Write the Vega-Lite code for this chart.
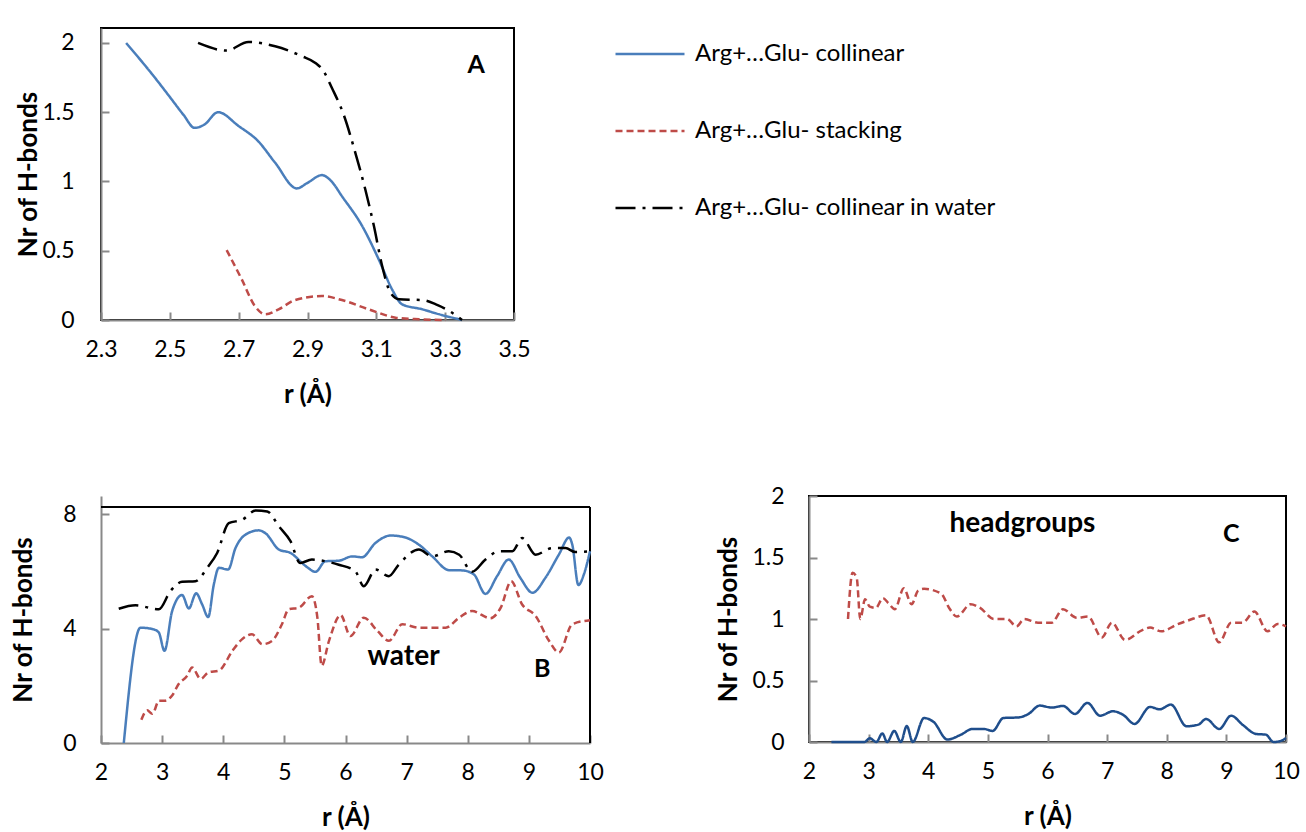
{
  "$schema": "https://vega.github.io/schema/vega-lite/v6.json",
  "background": "white",
  "padding": {"left": 10, "top": 17, "right": 5, "bottom": 5},
  "columns": 2,
  "align": "none",
  "bounds": "flush",
  "spacing": {"row": 176, "column": 219},
  "datasets": {
    "A": [
      {"s": "collinear", "r": 2.373, "n": 2.0}, {"s": "collinear", "r": 2.45, "n": 1.77}, {"s": "collinear", "r": 2.5, "n": 1.61},
      {"s": "collinear", "r": 2.54, "n": 1.48}, {"s": "collinear", "r": 2.572, "n": 1.387}, {"s": "collinear", "r": 2.6, "n": 1.41},
      {"s": "collinear", "r": 2.64, "n": 1.5}, {"s": "collinear", "r": 2.7, "n": 1.4}, {"s": "collinear", "r": 2.757, "n": 1.29},
      {"s": "collinear", "r": 2.806, "n": 1.135}, {"s": "collinear", "r": 2.869, "n": 0.95}, {"s": "collinear", "r": 2.9, "n": 0.99},
      {"s": "collinear", "r": 2.942, "n": 1.046}, {"s": "collinear", "r": 2.97, "n": 1.0}, {"s": "collinear", "r": 3.0, "n": 0.894},
      {"s": "collinear", "r": 3.059, "n": 0.678}, {"s": "collinear", "r": 3.107, "n": 0.4375}, {"s": "collinear", "r": 3.146, "n": 0.22},
      {"s": "collinear", "r": 3.175, "n": 0.113}, {"s": "collinear", "r": 3.234, "n": 0.077}, {"s": "collinear", "r": 3.273, "n": 0.048},
      {"s": "collinear", "r": 3.349, "n": 0.0},
      {"s": "stacking", "r": 2.665, "n": 0.505}, {"s": "stacking", "r": 2.709, "n": 0.293}, {"s": "stacking", "r": 2.747, "n": 0.101},
      {"s": "stacking", "r": 2.777, "n": 0.041}, {"s": "stacking", "r": 2.816, "n": 0.077}, {"s": "stacking", "r": 2.864, "n": 0.144},
      {"s": "stacking", "r": 2.942, "n": 0.173}, {"s": "stacking", "r": 3.0, "n": 0.144}, {"s": "stacking", "r": 3.078, "n": 0.077},
      {"s": "stacking", "r": 3.156, "n": 0.017}, {"s": "stacking", "r": 3.224, "n": 0.005}, {"s": "stacking", "r": 3.302, "n": 0.0},
      {"s": "collinear in water", "r": 2.582, "n": 2.0}, {"s": "collinear in water", "r": 2.665, "n": 1.945},
      {"s": "collinear in water", "r": 2.728, "n": 2.007}, {"s": "collinear in water", "r": 2.806, "n": 1.976},
      {"s": "collinear in water", "r": 2.884, "n": 1.904}, {"s": "collinear in water", "r": 2.923, "n": 1.856},
      {"s": "collinear in water", "r": 2.947, "n": 1.796}, {"s": "collinear in water", "r": 2.971, "n": 1.675},
      {"s": "collinear in water", "r": 3.005, "n": 1.483}, {"s": "collinear in water", "r": 3.039, "n": 1.207},
      {"s": "collinear in water", "r": 3.068, "n": 0.942}, {"s": "collinear in water", "r": 3.093, "n": 0.678},
      {"s": "collinear in water", "r": 3.117, "n": 0.389}, {"s": "collinear in water", "r": 3.141, "n": 0.197},
      {"s": "collinear in water", "r": 3.166, "n": 0.149}, {"s": "collinear in water", "r": 3.234, "n": 0.144},
      {"s": "collinear in water", "r": 3.273, "n": 0.113}, {"s": "collinear in water", "r": 3.312, "n": 0.065},
      {"s": "collinear in water", "r": 3.349, "n": 0.0}
    ],
    "B": [
      {"s": "collinear", "r": 2.373, "n": 0}, {"s": "collinear", "r": 2.646, "n": 4.03}, {"s": "collinear", "r": 2.86, "n": 3.97},
      {"s": "collinear", "r": 2.946, "n": 3.86}, {"s": "collinear", "r": 3.038, "n": 3.22}, {"s": "collinear", "r": 3.164, "n": 4.61},
      {"s": "collinear", "r": 3.327, "n": 5.17}, {"s": "collinear", "r": 3.437, "n": 4.7}, {"s": "collinear", "r": 3.556, "n": 5.23},
      {"s": "collinear", "r": 3.655, "n": 4.84}, {"s": "collinear", "r": 3.754, "n": 4.4}, {"s": "collinear", "r": 3.846, "n": 5.54},
      {"s": "collinear", "r": 3.928, "n": 6.12}, {"s": "collinear", "r": 4.08, "n": 6.06}, {"s": "collinear", "r": 4.2, "n": 6.81},
      {"s": "collinear", "r": 4.364, "n": 7.28}, {"s": "collinear", "r": 4.582, "n": 7.43}, {"s": "collinear", "r": 4.69, "n": 7.33},
      {"s": "collinear", "r": 4.91, "n": 6.76}, {"s": "collinear", "r": 5.1, "n": 6.64}, {"s": "collinear", "r": 5.35, "n": 6.18},
      {"s": "collinear", "r": 5.51, "n": 5.98}, {"s": "collinear", "r": 5.67, "n": 6.35}, {"s": "collinear", "r": 5.89, "n": 6.37},
      {"s": "collinear", "r": 6.11, "n": 6.52}, {"s": "collinear", "r": 6.27, "n": 6.49}, {"s": "collinear", "r": 6.49, "n": 6.99},
      {"s": "collinear", "r": 6.74, "n": 7.25}, {"s": "collinear", "r": 6.98, "n": 7.18}, {"s": "collinear", "r": 7.2, "n": 6.93},
      {"s": "collinear", "r": 7.42, "n": 6.52}, {"s": "collinear", "r": 7.69, "n": 6.04}, {"s": "collinear", "r": 7.91, "n": 6.03},
      {"s": "collinear", "r": 8.1, "n": 5.89}, {"s": "collinear", "r": 8.29, "n": 5.21}, {"s": "collinear", "r": 8.48, "n": 5.83},
      {"s": "collinear", "r": 8.67, "n": 6.41}, {"s": "collinear", "r": 8.86, "n": 5.77}, {"s": "collinear", "r": 9.06, "n": 5.25},
      {"s": "collinear", "r": 9.27, "n": 5.77}, {"s": "collinear", "r": 9.49, "n": 6.58}, {"s": "collinear", "r": 9.66, "n": 7.18},
      {"s": "collinear", "r": 9.71, "n": 6.93}, {"s": "collinear", "r": 9.81, "n": 5.52}, {"s": "collinear", "r": 9.9, "n": 5.89},
      {"s": "collinear", "r": 10.0, "n": 6.7},
      {"s": "stacking", "r": 2.66, "n": 0.81}, {"s": "stacking", "r": 2.755, "n": 1.14}, {"s": "stacking", "r": 2.84, "n": 1.02},
      {"s": "stacking", "r": 2.95, "n": 1.48}, {"s": "stacking", "r": 3.055, "n": 1.48}, {"s": "stacking", "r": 3.164, "n": 1.66},
      {"s": "stacking", "r": 3.27, "n": 2.06}, {"s": "stacking", "r": 3.41, "n": 2.35}, {"s": "stacking", "r": 3.49, "n": 2.64},
      {"s": "stacking", "r": 3.63, "n": 2.24}, {"s": "stacking", "r": 3.76, "n": 2.47}, {"s": "stacking", "r": 3.93, "n": 2.53},
      {"s": "stacking", "r": 4.15, "n": 3.22}, {"s": "stacking", "r": 4.31, "n": 3.63}, {"s": "stacking", "r": 4.47, "n": 3.8},
      {"s": "stacking", "r": 4.64, "n": 3.45}, {"s": "stacking", "r": 4.8, "n": 3.57}, {"s": "stacking", "r": 4.96, "n": 4.15},
      {"s": "stacking", "r": 5.07, "n": 4.67}, {"s": "stacking", "r": 5.24, "n": 4.73}, {"s": "stacking", "r": 5.45, "n": 5.13},
      {"s": "stacking", "r": 5.54, "n": 4.38}, {"s": "stacking", "r": 5.61, "n": 2.7}, {"s": "stacking", "r": 5.73, "n": 3.57},
      {"s": "stacking", "r": 5.92, "n": 4.47}, {"s": "stacking", "r": 6.08, "n": 3.74}, {"s": "stacking", "r": 6.3, "n": 4.38},
      {"s": "stacking", "r": 6.52, "n": 3.92}, {"s": "stacking", "r": 6.71, "n": 3.57}, {"s": "stacking", "r": 6.93, "n": 4.15},
      {"s": "stacking", "r": 7.2, "n": 4.03}, {"s": "stacking", "r": 7.64, "n": 4.03}, {"s": "stacking", "r": 7.86, "n": 4.38},
      {"s": "stacking", "r": 8.07, "n": 4.61}, {"s": "stacking", "r": 8.37, "n": 4.36}, {"s": "stacking", "r": 8.54, "n": 4.73},
      {"s": "stacking", "r": 8.71, "n": 5.65}, {"s": "stacking", "r": 8.89, "n": 4.84}, {"s": "stacking", "r": 9.11, "n": 4.44},
      {"s": "stacking", "r": 9.33, "n": 3.57}, {"s": "stacking", "r": 9.49, "n": 3.16}, {"s": "stacking", "r": 9.71, "n": 4.15},
      {"s": "stacking", "r": 10.0, "n": 4.29},
      {"s": "collinear in water", "r": 2.29, "n": 4.69}, {"s": "collinear in water", "r": 2.564, "n": 4.81},
      {"s": "collinear in water", "r": 2.946, "n": 4.67}, {"s": "collinear in water", "r": 3.136, "n": 5.31},
      {"s": "collinear in water", "r": 3.327, "n": 5.63}, {"s": "collinear in water", "r": 3.546, "n": 5.65},
      {"s": "collinear in water", "r": 3.737, "n": 6.12}, {"s": "collinear in water", "r": 3.9, "n": 6.64},
      {"s": "collinear in water", "r": 4.09, "n": 7.68}, {"s": "collinear in water", "r": 4.31, "n": 7.8},
      {"s": "collinear in water", "r": 4.53, "n": 8.12}, {"s": "collinear in water", "r": 4.72, "n": 8.09},
      {"s": "collinear in water", "r": 4.91, "n": 7.57}, {"s": "collinear in water", "r": 5.1, "n": 7.05},
      {"s": "collinear in water", "r": 5.26, "n": 6.29}, {"s": "collinear in water", "r": 5.45, "n": 6.41},
      {"s": "collinear in water", "r": 5.67, "n": 6.35}, {"s": "collinear in water", "r": 5.89, "n": 6.23},
      {"s": "collinear in water", "r": 6.16, "n": 6.0}, {"s": "collinear in water", "r": 6.3, "n": 5.48},
      {"s": "collinear in water", "r": 6.49, "n": 6.06}, {"s": "collinear in water", "r": 6.71, "n": 5.83},
      {"s": "collinear in water", "r": 6.87, "n": 6.23}, {"s": "collinear in water", "r": 7.2, "n": 6.76},
      {"s": "collinear in water", "r": 7.42, "n": 6.52}, {"s": "collinear in water", "r": 7.69, "n": 6.7},
      {"s": "collinear in water", "r": 7.86, "n": 6.58}, {"s": "collinear in water", "r": 8.07, "n": 5.98},
      {"s": "collinear in water", "r": 8.29, "n": 6.41}, {"s": "collinear in water", "r": 8.51, "n": 6.7},
      {"s": "collinear in water", "r": 8.73, "n": 6.7}, {"s": "collinear in water", "r": 8.89, "n": 7.16},
      {"s": "collinear in water", "r": 9.11, "n": 6.58}, {"s": "collinear in water", "r": 9.38, "n": 6.81},
      {"s": "collinear in water", "r": 9.6, "n": 6.81}, {"s": "collinear in water", "r": 9.76, "n": 6.67},
      {"s": "collinear in water", "r": 10.0, "n": 6.7}
    ],
    "C": [
      {"s": "collinear", "r": 2.376, "n": 0}, {"s": "collinear", "r": 2.93, "n": 0}, {"s": "collinear", "r": 3.02, "n": 0.03},
      {"s": "collinear", "r": 3.13, "n": 0}, {"s": "collinear", "r": 3.23, "n": 0.07}, {"s": "collinear", "r": 3.31, "n": 0},
      {"s": "collinear", "r": 3.43, "n": 0.09}, {"s": "collinear", "r": 3.54, "n": 0}, {"s": "collinear", "r": 3.64, "n": 0.13},
      {"s": "collinear", "r": 3.74, "n": 0}, {"s": "collinear", "r": 3.93, "n": 0.195}, {"s": "collinear", "r": 4.09, "n": 0.163},
      {"s": "collinear", "r": 4.32, "n": 0.02}, {"s": "collinear", "r": 4.55, "n": 0.06}, {"s": "collinear", "r": 4.74, "n": 0.106},
      {"s": "collinear", "r": 4.93, "n": 0.106}, {"s": "collinear", "r": 5.08, "n": 0.09}, {"s": "collinear", "r": 5.26, "n": 0.195},
      {"s": "collinear", "r": 5.52, "n": 0.2}, {"s": "collinear", "r": 5.68, "n": 0.228}, {"s": "collinear", "r": 5.87, "n": 0.296},
      {"s": "collinear", "r": 6.07, "n": 0.28}, {"s": "collinear", "r": 6.26, "n": 0.293}, {"s": "collinear", "r": 6.46, "n": 0.228},
      {"s": "collinear", "r": 6.67, "n": 0.318}, {"s": "collinear", "r": 6.88, "n": 0.214}, {"s": "collinear", "r": 7.1, "n": 0.25},
      {"s": "collinear", "r": 7.27, "n": 0.22}, {"s": "collinear", "r": 7.46, "n": 0.147}, {"s": "collinear", "r": 7.72, "n": 0.285},
      {"s": "collinear", "r": 7.88, "n": 0.266}, {"s": "collinear", "r": 8.07, "n": 0.304}, {"s": "collinear", "r": 8.33, "n": 0.128},
      {"s": "collinear", "r": 8.53, "n": 0.141}, {"s": "collinear", "r": 8.66, "n": 0.187}, {"s": "collinear", "r": 8.88, "n": 0.106},
      {"s": "collinear", "r": 9.08, "n": 0.214}, {"s": "collinear", "r": 9.27, "n": 0.141}, {"s": "collinear", "r": 9.5, "n": 0.065},
      {"s": "collinear", "r": 9.66, "n": 0.06}, {"s": "collinear", "r": 9.79, "n": 0}, {"s": "collinear", "r": 9.92, "n": 0.01},
      {"s": "collinear", "r": 10.0, "n": 0.033},
      {"s": "stacking", "r": 2.654, "n": 1.0}, {"s": "stacking", "r": 2.73, "n": 1.376}, {"s": "stacking", "r": 2.8, "n": 1.335},
      {"s": "stacking", "r": 2.86, "n": 1.0}, {"s": "stacking", "r": 2.94, "n": 1.16}, {"s": "stacking", "r": 3.02, "n": 1.1},
      {"s": "stacking", "r": 3.12, "n": 1.09}, {"s": "stacking", "r": 3.24, "n": 1.17}, {"s": "stacking", "r": 3.33, "n": 1.13},
      {"s": "stacking", "r": 3.44, "n": 1.08}, {"s": "stacking", "r": 3.59, "n": 1.25}, {"s": "stacking", "r": 3.72, "n": 1.12},
      {"s": "stacking", "r": 3.83, "n": 1.23}, {"s": "stacking", "r": 3.93, "n": 1.245}, {"s": "stacking", "r": 4.22, "n": 1.205},
      {"s": "stacking", "r": 4.35, "n": 1.09}, {"s": "stacking", "r": 4.48, "n": 1.02}, {"s": "stacking", "r": 4.71, "n": 1.12},
      {"s": "stacking", "r": 4.87, "n": 1.09}, {"s": "stacking", "r": 5.1, "n": 1.0}, {"s": "stacking", "r": 5.32, "n": 1.0},
      {"s": "stacking", "r": 5.48, "n": 0.94}, {"s": "stacking", "r": 5.61, "n": 1.0}, {"s": "stacking", "r": 5.84, "n": 0.97},
      {"s": "stacking", "r": 6.07, "n": 0.97}, {"s": "stacking", "r": 6.26, "n": 1.08}, {"s": "stacking", "r": 6.49, "n": 1.01},
      {"s": "stacking", "r": 6.68, "n": 1.02}, {"s": "stacking", "r": 6.91, "n": 0.85}, {"s": "stacking", "r": 7.08, "n": 0.97},
      {"s": "stacking", "r": 7.3, "n": 0.83}, {"s": "stacking", "r": 7.59, "n": 0.91}, {"s": "stacking", "r": 7.72, "n": 0.93},
      {"s": "stacking", "r": 7.91, "n": 0.9}, {"s": "stacking", "r": 8.17, "n": 0.955}, {"s": "stacking", "r": 8.37, "n": 0.99},
      {"s": "stacking", "r": 8.66, "n": 1.03}, {"s": "stacking", "r": 8.88, "n": 0.81}, {"s": "stacking", "r": 9.08, "n": 0.97},
      {"s": "stacking", "r": 9.27, "n": 0.97}, {"s": "stacking", "r": 9.47, "n": 1.06}, {"s": "stacking", "r": 9.69, "n": 0.9},
      {"s": "stacking", "r": 9.86, "n": 0.96}, {"s": "stacking", "r": 10.0, "n": 0.94}
    ]
  },
  "concat": [
    {
      "width": 413,
      "height": 292,
      "layer": [
        {
          "data": {"name": "A"},
          "mark": {"type": "line", "interpolate": "monotone", "strokeWidth": 2.5},
          "encoding": {
            "x": {
              "field": "r", "type": "quantitative",
              "scale": {"domain": [2.3, 3.5], "nice": false, "zero": false},
              "axis": {"values": [2.3, 2.5, 2.7, 2.9, 3.1, 3.3, 3.5], "format": ".1f", "title": "r (Å)", "labelPadding": 26, "titlePadding": 20}
            },
            "y": {
              "field": "n", "type": "quantitative",
              "scale": {"domain": [0, 2.108], "nice": false},
              "axis": {"values": [0, 0.5, 1, 1.5, 2], "format": "~g", "title": "Nr of H-bonds", "labelPadding": 35, "titlePadding": 0}
            },
            "color": {
              "field": "s", "type": "nominal",
              "scale": {"domain": ["collinear", "stacking", "collinear in water"], "range": ["#4A7EBB", "#BE4B48", "#000000"]},
              "legend": {
                "orient": "none", "legendX": 513, "legendY": -10, "title": null, "padding": 0,
                "symbolType": "stroke", "symbolSize": 4761, "symbolStrokeWidth": 2.5,
                "labelFontSize": 24, "labelOffset": 9, "rowPadding": 29, "labelLimit": 0,
                "labelExpr": "'Arg+…Glu- ' + datum.label",
                "encode": {"symbols": {"update": {"strokeDash": {"signal": "datum.value === 'stacking' ? [2, 2] : datum.value === 'collinear in water' ? [18, 9, 2, 9] : [1, 0]"}}}}
              }
            },
            "strokeDash": {
              "field": "s", "type": "nominal",
              "scale": {"domain": ["collinear", "stacking", "collinear in water"], "range": [[1, 0], [7, 4], [20, 7, 3, 7]]},
              "legend": {
                "orient": "none", "legendX": 513, "legendY": -10, "title": null, "padding": 0,
                "symbolType": "stroke", "symbolSize": 4761, "symbolStrokeWidth": 2.5,
                "labelFontSize": 24, "labelOffset": 9, "rowPadding": 29, "labelLimit": 0,
                "labelExpr": "'Arg+…Glu- ' + datum.label",
                "encode": {"symbols": {"update": {"strokeDash": {"signal": "datum.value === 'stacking' ? [2, 2] : datum.value === 'collinear in water' ? [18, 9, 2, 9] : [1, 0]"}}}}
              }
            }
          }
        },
        {
          "data": {"values": [{"label": "A", "r": 3.39, "n": 1.84}]},
          "mark": {"type": "text", "fontWeight": "bold", "fontSize": 25, "align": "center", "baseline": "middle"},
          "encoding": {
            "x": {"field": "r", "type": "quantitative"},
            "y": {"field": "n", "type": "quantitative"},
            "text": {"field": "label"}
          }
        }
      ]
    },
    {
      "width": 10,
      "height": 200,
      "data": {"values": [{}]},
      "mark": {"type": "text"},
      "encoding": {"text": {"value": ""}},
      "view": {"stroke": null}
    },
    {
      "width": 489,
      "height": 247,
      "view": {"stroke": null},
      "layer": [
        {
          "data": {"values": [
            {"r": 2, "r2": 10, "n": 8.245, "n2": 8.245},
            {"r": 10, "r2": 10, "n": 0, "n2": 8.245}
          ]},
          "mark": {"type": "rule", "color": "#000000", "strokeWidth": 2},
          "encoding": {
            "x": {"field": "r", "type": "quantitative"},
            "x2": {"field": "r2"},
            "y": {"field": "n", "type": "quantitative"},
            "y2": {"field": "n2"}
          }
        },
        {
          "data": {"name": "B"},
          "mark": {"type": "line", "interpolate": "monotone", "strokeWidth": 2.5},
          "encoding": {
            "x": {
              "field": "r", "type": "quantitative",
              "scale": {"domain": [2, 10], "nice": false, "zero": false},
              "axis": {"values": [2, 3, 4, 5, 6, 7, 8, 9, 10], "format": "d", "title": "r (Å)", "labelPadding": 26, "titlePadding": 20}
            },
            "y": {
              "field": "n", "type": "quantitative",
              "scale": {"domain": [0, 8.63], "nice": false},
              "axis": {"values": [0, 4, 8], "format": "d", "title": "Nr of H-bonds", "labelPadding": 33, "titlePadding": 26}
            },
            "color": {
              "field": "s", "type": "nominal",
              "scale": {"domain": ["collinear", "stacking", "collinear in water"], "range": ["#4A7EBB", "#BE4B48", "#000000"]},
              "legend": null
            },
            "strokeDash": {
              "field": "s", "type": "nominal",
              "scale": {"domain": ["collinear", "stacking", "collinear in water"], "range": [[1, 0], [7, 4], [20, 7, 3, 7]]},
              "legend": null
            }
          }
        },
        {
          "data": {"values": [{"label": "water", "r": 6.95, "n": 3.0}]},
          "mark": {"type": "text", "fontWeight": "bold", "fontSize": 28, "align": "center", "baseline": "middle"},
          "encoding": {
            "x": {"field": "r", "type": "quantitative"},
            "y": {"field": "n", "type": "quantitative"},
            "text": {"field": "label"}
          }
        },
        {
          "data": {"values": [{"label": "B", "r": 9.22, "n": 2.58}]},
          "mark": {"type": "text", "fontWeight": "bold", "fontSize": 25, "align": "center", "baseline": "middle"},
          "encoding": {
            "x": {"field": "r", "type": "quantitative"},
            "y": {"field": "n", "type": "quantitative"},
            "text": {"field": "label"}
          }
        }
      ]
    },
    {
      "width": 477,
      "height": 246,
      "layer": [
        {
          "data": {"name": "C"},
          "mark": {"type": "line", "interpolate": "monotone", "strokeWidth": 2.5},
          "encoding": {
            "x": {
              "field": "r", "type": "quantitative",
              "scale": {"domain": [2, 10], "nice": false, "zero": false},
              "axis": {"values": [2, 3, 4, 5, 6, 7, 8, 9, 10], "format": "d", "title": "r (Å)", "labelPadding": 26, "titlePadding": 20}
            },
            "y": {
              "field": "n", "type": "quantitative",
              "scale": {"domain": [0, 2], "nice": false},
              "axis": {"values": [0, 0.5, 1, 1.5, 2], "format": "~g", "title": "Nr of H-bonds", "labelPadding": 33, "titlePadding": 10}
            },
            "color": {
              "field": "s", "type": "nominal",
              "scale": {"domain": ["collinear", "stacking"], "range": ["#1F4E8C", "#BE4B48"]},
              "legend": null
            },
            "strokeDash": {
              "field": "s", "type": "nominal",
              "scale": {"domain": ["collinear", "stacking"], "range": [[1, 0], [7, 4]]},
              "legend": null
            }
          }
        },
        {
          "data": {"values": [{"label": "headgroups", "r": 5.58, "n": 1.77}]},
          "mark": {"type": "text", "fontWeight": "bold", "fontSize": 28, "align": "center", "baseline": "middle"},
          "encoding": {
            "x": {"field": "r", "type": "quantitative"},
            "y": {"field": "n", "type": "quantitative"},
            "text": {"field": "label"}
          }
        },
        {
          "data": {"values": [{"label": "C", "r": 9.08, "n": 1.69}]},
          "mark": {"type": "text", "fontWeight": "bold", "fontSize": 25, "align": "center", "baseline": "middle"},
          "encoding": {
            "x": {"field": "r", "type": "quantitative"},
            "y": {"field": "n", "type": "quantitative"},
            "text": {"field": "label"}
          }
        }
      ]
    }
  ],
  "resolve": {
    "scale": {"x": "independent", "y": "independent", "color": "independent", "strokeDash": "independent"},
    "legend": {"color": "independent", "strokeDash": "independent"}
  },
  "config": {
    "font": "Lato",
    "view": {"stroke": "#000000", "strokeWidth": 2},
    "text": {"font": "Lato", "color": "#000000"},
    "axis": {
      "grid": false,
      "domainColor": "#898989", "domainWidth": 2,
      "tickColor": "#898989", "tickWidth": 2, "tickSize": -8,
      "labelFont": "Lato", "labelFontSize": 23, "labelColor": "#000000",
      "labelFlush": false, "labelOverlap": false, "labelBound": false,
      "titleFont": "Lato", "titleFontSize": 26, "titleFontWeight": "bold", "titleColor": "#000000"
    },
    "legend": {"labelFont": "Lato", "labelColor": "#000000"}
  }
}
